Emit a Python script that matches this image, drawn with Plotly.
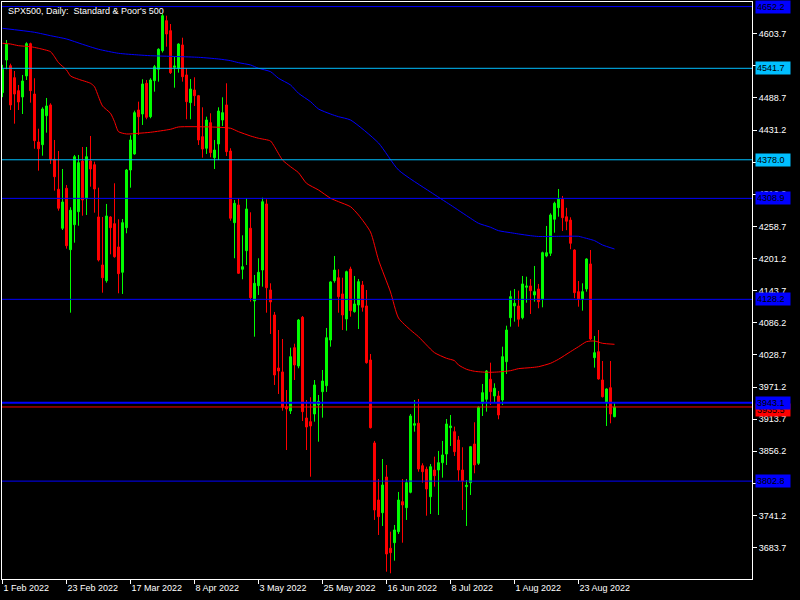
import pandas as pd
import plotly.graph_objects as go

# ---- daily bars (broker calendar: weekdays, no bar on Good Friday) ----
dates = [d.strftime("%Y-%m-%d") for d in pd.bdate_range("2022-02-01", "2022-09-05")
         if d.strftime("%Y-%m-%d") != "2022-04-15"]

opens = [4498.1, 4556.6, 4546.4, 4524.9, 4501.7, 4490.4, 4528.0, 4585.8, 4495.7, 4409.8,
         4405.0, 4456.9, 4476.1, 4378.9, 4325.2, 4255.4, 4327.0, 4217.1, 4261.8, 4285.1,
         4375.8, 4309.1, 4375.8, 4369.2, 4275.6, 4189.7, 4161.6, 4275.6, 4263.6, 4221.9,
         4176.6, 4256.4, 4359.7, 4388.4, 4467.1, 4459.9, 4514.9, 4455.1, 4519.6, 4540.0,
         4573.3, 4627.0, 4609.1, 4543.5, 4541.7, 4583.5, 4529.8, 4480.2, 4502.9, 4492.7,
         4419.3, 4398.6, 4444.4, 4381.7, 4406.3, 4449.2, 4476.1, 4393.7, 4265.4, 4297.1,
         4182.0, 4215.3, 4255.4, 4125.2, 4152.6, 4180.7, 4298.9, 4144.9, 4100.2, 4005.3,
         3998.2, 3936.0, 3928.4, 4041.6, 4008.9, 4096.1, 3915.8, 3909.2, 3923.0, 3939.6,
         3962.9, 3973.6, 4055.4, 4161.6, 4166.9, 4137.8, 4093.0, 4182.5, 4106.1, 4118.1,
         4153.9, 4116.3, 4019.6, 3871.1, 3769.0, 3746.3, 3810.2, 3682.6, 3692.6, 3712.3,
         3766.0, 3755.3, 3782.8, 3902.8, 3906.4, 3830.4, 3824.0, 3774.9, 3822.7, 3822.7,
         3835.8, 3851.4, 3898.5, 3891.3, 3876.4, 3822.7, 3792.9, 3800.0, 3869.3, 3834.7,
         3942.1, 3949.3, 3985.1, 3955.2, 3955.2, 3948.0, 4016.6, 4095.3, 4116.3, 4116.3,
         4095.3, 4149.8, 4152.1, 4136.0, 4146.7, 4128.8, 4205.8, 4210.6, 4271.5, 4292.2,
         4307.3, 4276.0, 4270.0, 4216.5, 4141.9, 4128.8, 4146.7, 4191.5, 4023.8, 4034.5,
         3983.8, 3943.9, 3970.0, 3918.1]
highs = [4548.0, 4592.4, 4550.0, 4536.9, 4511.9, 4529.8, 4588.3, 4587.6, 4523.9, 4433.6,
         4471.9, 4488.6, 4479.1, 4413.4, 4393.7, 4361.5, 4332.9, 4293.0, 4386.6, 4386.6,
         4400.9, 4400.9, 4420.6, 4374.6, 4328.0, 4275.6, 4298.9, 4277.0, 4335.9, 4271.5,
         4272.0, 4361.5, 4421.8, 4465.9, 4482.0, 4522.1, 4520.8, 4523.9, 4547.7, 4577.5,
         4638.9, 4635.9, 4621.0, 4562.5, 4586.5, 4596.5, 4541.7, 4522.6, 4525.6, 4494.0,
         4471.9, 4455.1, 4461.2, 4413.4, 4471.9, 4489.8, 4514.9, 4398.6, 4306.0, 4309.1,
         4242.8, 4309.1, 4284.0, 4171.8, 4201.7, 4310.1, 4307.3, 4156.9, 4105.6, 4073.3,
         4057.2, 3965.9, 4041.6, 4048.8, 4093.0, 4098.4, 3948.0, 3952.9, 3983.8, 3957.0,
         4001.7, 4076.9, 4160.5, 4205.8, 4182.0, 4166.9, 4179.5, 4186.6, 4170.0, 4164.6,
         4161.0, 4144.9, 4030.4, 3874.7, 3806.6, 3842.4, 3831.7, 3712.3, 3724.3, 3783.4,
         3806.6, 3806.6, 3923.0, 3948.0, 3949.8, 3834.7, 3828.6, 3833.5, 3846.6, 3856.8,
         3874.7, 3914.0, 3921.2, 3900.3, 3883.6, 3863.4, 3804.8, 3865.7, 3908.1, 3937.0,
         3976.7, 4001.7, 4014.8, 3977.9, 3964.2, 4043.4, 4081.0, 4143.7, 4146.7, 4143.7,
         4170.0, 4168.7, 4164.6, 4187.9, 4155.7, 4213.5, 4259.5, 4282.2, 4302.9, 4325.7,
         4313.2, 4292.0, 4275.0, 4217.8, 4161.0, 4156.9, 4201.7, 4216.5, 4062.6, 4073.3,
         4017.8, 3969.0, 4017.8, 3943.2]
lows = [4490.0, 4540.0, 4467.1, 4442.6, 4467.1, 4459.9, 4520.8, 4480.2, 4397.8, 4358.5,
        4385.3, 4426.5, 4370.5, 4322.7, 4286.9, 4252.3, 4218.9, 4104.3, 4229.6, 4260.0,
        4277.9, 4279.2, 4329.8, 4283.3, 4196.0, 4140.1, 4158.0, 4208.8, 4202.7, 4139.0,
        4137.8, 4246.4, 4328.0, 4387.1, 4422.4, 4440.3, 4450.5, 4452.3, 4499.9, 4517.8,
        4570.0, 4580.4, 4531.5, 4507.0, 4533.9, 4517.8, 4450.5, 4450.5, 4474.3, 4404.5,
        4381.7, 4388.4, 4382.4, 4361.5, 4377.6, 4438.5, 4384.8, 4269.0, 4201.7, 4173.6,
        4164.1, 4189.7, 4124.0, 4061.3, 4136.0, 4150.8, 4104.3, 4066.2, 3974.9, 3958.8,
        3928.9, 3858.5, 3923.0, 3983.8, 4004.8, 3910.4, 3858.5, 3810.7, 3909.2, 3873.4,
        3916.4, 3962.4, 4043.4, 4158.0, 4104.3, 4073.3, 4072.1, 4097.1, 4104.3, 4075.1,
        4106.1, 4013.0, 3897.0, 3733.3, 3706.4, 3722.5, 3640.7, 3637.8, 3660.4, 3708.2,
        3692.6, 3733.3, 3781.0, 3891.3, 3819.7, 3800.0, 3740.9, 3744.0, 3792.9, 3742.2,
        3809.0, 3831.7, 3865.7, 3847.8, 3803.0, 3751.1, 3722.5, 3778.0, 3816.8, 3831.7,
        3919.4, 3927.1, 3939.1, 3943.2, 3913.5, 3939.1, 3994.6, 4079.2, 4088.2, 4079.2,
        4092.5, 4122.2, 4102.0, 4124.0, 4112.2, 4113.9, 4203.5, 4205.8, 4247.5, 4276.1,
        4250.5, 4252.0, 4217.8, 4130.1, 4115.0, 4107.9, 4141.9, 4055.0, 4005.9, 3984.5,
        3952.5, 3901.5, 3906.3, 3917.1]
closes = [4540.0, 4584.7, 4476.1, 4495.7, 4481.4, 4519.0, 4585.8, 4501.7, 4412.2, 4397.8,
          4468.9, 4474.3, 4378.9, 4347.7, 4291.2, 4302.4, 4224.2, 4287.6, 4383.5, 4372.8,
          4306.0, 4383.5, 4361.5, 4325.7, 4198.6, 4166.9, 4277.4, 4256.4, 4204.5, 4174.1,
          4265.4, 4359.7, 4413.4, 4462.3, 4455.1, 4513.6, 4454.0, 4520.8, 4544.6, 4575.8,
          4635.9, 4603.1, 4533.9, 4545.9, 4585.2, 4526.7, 4482.0, 4504.7, 4492.7, 4413.4,
          4397.3, 4449.2, 4390.7, 4395.5, 4465.3, 4462.3, 4392.5, 4273.3, 4300.1, 4174.8,
          4186.6, 4289.9, 4131.1, 4156.9, 4176.6, 4302.9, 4149.0, 4123.5, 3992.8, 3999.9,
          3935.0, 3931.9, 4025.5, 4010.7, 4091.2, 3927.1, 3899.7, 3901.5, 3974.9, 3945.7,
          3982.0, 4059.5, 4159.3, 4180.7, 4132.9, 4100.2, 4177.7, 4107.9, 4119.9, 4159.8,
          4114.0, 4014.8, 3898.4, 3751.1, 3739.2, 3795.9, 3672.4, 3674.7, 3715.4, 3769.0,
          3760.1, 3800.0, 3919.4, 3905.6, 3824.5, 3819.7, 3788.7, 3828.6, 3812.5, 3835.8,
          3849.6, 3905.1, 3901.5, 3855.5, 3822.7, 3803.0, 3795.4, 3864.5, 3831.7, 3935.0,
          3961.1, 3999.9, 3962.9, 3969.0, 3921.2, 4025.5, 4073.3, 4132.9, 4121.1, 4092.5,
          4155.7, 4152.1, 4143.7, 4141.9, 4124.0, 4211.7, 4211.7, 4279.2, 4300.1, 4307.3,
          4274.3, 4268.0, 4228.5, 4140.1, 4128.8, 4141.9, 4200.4, 4057.2, 4032.7, 3985.6,
          3953.9, 3967.7, 3923.0, 3935.5]

# ---- moving averages (bar index, value) ----
slow_ma_idx = [0, 8, 12, 16, 20, 24, 29, 34, 37, 49, 54, 57, 59, 62, 64, 67, 69, 72, 74, 77,
               79, 82, 84, 87, 94, 99, 107, 112, 117, 119, 122, 124, 127, 129, 132, 134, 139,
               144, 145, 148, 150, 153]
slow_ma_val = [4613.3, 4606.2, 4600.1, 4594.2, 4584.7, 4575.8, 4568.6, 4565.6, 4564.3, 4561.4,
               4558.4, 4555.4, 4551.8, 4547.7, 4541.7, 4535.7, 4523.9, 4511.9, 4497.0, 4482.0,
               4468.9, 4459.9, 4455.1, 4449.2, 4408.0, 4359.7, 4320.3, 4297.1, 4273.3, 4264.3,
               4257.2, 4251.1, 4247.5, 4245.2, 4242.1, 4240.7, 4241.0, 4241.0, 4239.2, 4233.2,
               4225.5, 4218.3]
fast_ma_idx = [0, 2, 4, 7, 9, 12, 13, 14, 16, 17, 19, 22, 23, 24, 25, 27, 28, 29, 31, 34, 37,
               42, 44, 52, 57, 59, 62, 64, 67, 68, 70, 72, 74, 76, 79, 82, 84, 87, 89, 92, 94,
               97, 99, 102, 104, 106, 108, 111, 113, 114, 116, 118, 121, 122, 124, 127, 129,
               132, 134, 137, 139, 142, 144, 146, 148, 150, 153]
fast_ma_val = [4586.5, 4585.2, 4582.2, 4580.4, 4577.5, 4571.5, 4562.5, 4551.8, 4538.7, 4528.0,
               4522.1, 4514.9, 4508.8, 4490.9, 4474.3, 4461.2, 4446.2, 4428.3, 4424.2, 4425.4,
               4427.2, 4432.6, 4436.7, 4436.7, 4434.4, 4428.3, 4420.6, 4416.5, 4411.6, 4401.4,
               4377.6, 4365.6, 4354.9, 4335.9, 4323.9, 4309.1, 4303.0, 4294.0, 4279.2, 4248.7,
               4198.6, 4141.3, 4094.8, 4073.3, 4061.3, 4046.5, 4032.7, 4022.7, 4018.4, 4010.7,
               4003.0, 3999.4, 3997.6, 3997.6, 3998.2, 4000.5, 4004.1, 4005.9, 4007.6, 4013.7,
               4020.9, 4034.5, 4043.4, 4052.4, 4053.6, 4049.5, 4047.7]

# ---- horizontal levels ----
level_prices = [4652.2, 4541.7, 4378.0, 4308.9, 4128.2, 3943.1, 3802.8]
level_colors = ["#0000ff", "#00bfff", "#00bfff", "#0000ff", "#0000ff", "#0000ff", "#0000ff"]
level_widths = [1, 1, 1, 1, 1, 2, 1]
bid_price = closes[-1]

# ---- axis ticks (labels under a price tag are left blank) ----
price_ticks = [4603.7, 4546.2, 4488.7, 4431.2, 4373.7, 4316.2, 4258.7, 4201.2, 4143.7,
               4086.2, 4028.7, 3971.2, 3913.7, 3856.2, 3798.7, 3741.2, 3683.7]
price_tick_text = ["4603.7", "", "4488.7", "4431.2", "4373.7", "4316.2", "4258.7", "4201.2",
                   "4143.7", "4086.2", "4028.7", "3971.2", "3913.7", "3856.2", "", "3741.2",
                   "3683.7"]
time_tick_idx = [0, 16, 32, 48, 64, 80, 96, 112, 128, 144]
time_tick_text = ["1 Feb 2022", "23 Feb 2022", "17 Mar 2022", "8 Apr 2022", "3 May 2022",
                  "25 May 2022", "16 Jun 2022", "8 Jul 2022", "1 Aug 2022", "23 Aug 2022"]

BULL = "#00ff00"
BEAR = "#ff0000"
FONT = "Liberation Sans"
FS = 9

fig = go.Figure()
fig.add_trace(go.Candlestick(
    x=dates, open=opens, high=highs, low=lows, close=closes,
    increasing=dict(line=dict(color=BULL, width=1), fillcolor=BULL),
    decreasing=dict(line=dict(color=BEAR, width=1), fillcolor=BEAR),
    whiskerwidth=0, hoverinfo="skip", showlegend=False,
))
fig.add_trace(go.Scatter(
    x=[dates[i] for i in slow_ma_idx], y=slow_ma_val, mode="lines",
    line=dict(color="#0000ff", width=1, shape="spline", smoothing=0.6),
    hoverinfo="skip", showlegend=False,
))
fig.add_trace(go.Scatter(
    x=[dates[i] for i in fast_ma_idx], y=fast_ma_val, mode="lines",
    line=dict(color="#ff0000", width=1, shape="spline", smoothing=0.6),
    hoverinfo="skip", showlegend=False,
))

shapes = []
annotations = []
for p, c, w in zip(level_prices, level_colors, level_widths):
    shapes.append(dict(type="line", xref="paper", x0=0, x1=1, yref="y", y0=p, y1=p,
                       line=dict(color=c, width=w)))
shapes.append(dict(type="line", xref="paper", x0=0, x1=1, yref="y", y0=bid_price, y1=bid_price,
                   line=dict(color="#ff0000", width=1)))

# price tags on the scale: bid first so the level tag sits over it
annotations.append(dict(xref="paper", x=1, xshift=3, xanchor="left", yref="y", y=bid_price,
                        yshift=-3, text=f"{bid_price:.1f}", showarrow=False, bgcolor="#ff0000",
                        font=dict(color="#000000", size=FS, family=FONT), borderpad=1,
                        width=32, align="left"))
for p, c in zip(level_prices, level_colors):
    annotations.append(dict(xref="paper", x=1, xshift=3, xanchor="left", yref="y", y=p,
                            text=f"{p:.1f}", showarrow=False, bgcolor=c,
                            font=dict(color="#000000", size=FS, family=FONT), borderpad=1,
                            width=32, align="left"))

annotations.append(dict(xref="paper", yref="paper", x=0, y=1, xshift=4, yshift=-2,
                        xanchor="left", yanchor="top", showarrow=False,
                        text="SPX500, Daily:\u00a0 Standard &amp; Poor's 500",
                        font=dict(color="#ffffff", size=FS, family=FONT)))

fig.update_layout(
    width=800, height=600,
    margin=dict(l=2, r=48, t=2, b=21, autoexpand=False),
    paper_bgcolor="#000000", plot_bgcolor="#000000",
    font=dict(family=FONT, size=FS, color="#ffffff"),
    shapes=shapes, annotations=annotations,
    showlegend=False,
    xaxis=dict(
        type="category", range=[-0.125, 187.375], rangeslider=dict(visible=False),
        tickmode="array", tickvals=[dates[i] for i in time_tick_idx], ticktext=time_tick_text,
        tickangle=0, automargin=False,
        ticks="outside", ticklen=4, tickcolor="#ffffff", ticklabelposition="outside right",
        showline=True, linecolor="#ffffff", linewidth=1, mirror=True,
        showgrid=False, zeroline=False, fixedrange=True,
    ),
    yaxis=dict(
        side="right", range=[3627.6, 4660.4], automargin=False,
        tickmode="array", tickvals=price_ticks, ticktext=price_tick_text,
        ticks="outside", ticklen=4, tickcolor="#ffffff",
        showline=True, linecolor="#ffffff", linewidth=1, mirror=True,
        showgrid=False, zeroline=False, fixedrange=True,
    ),
)

fig.write_html("out.html")
